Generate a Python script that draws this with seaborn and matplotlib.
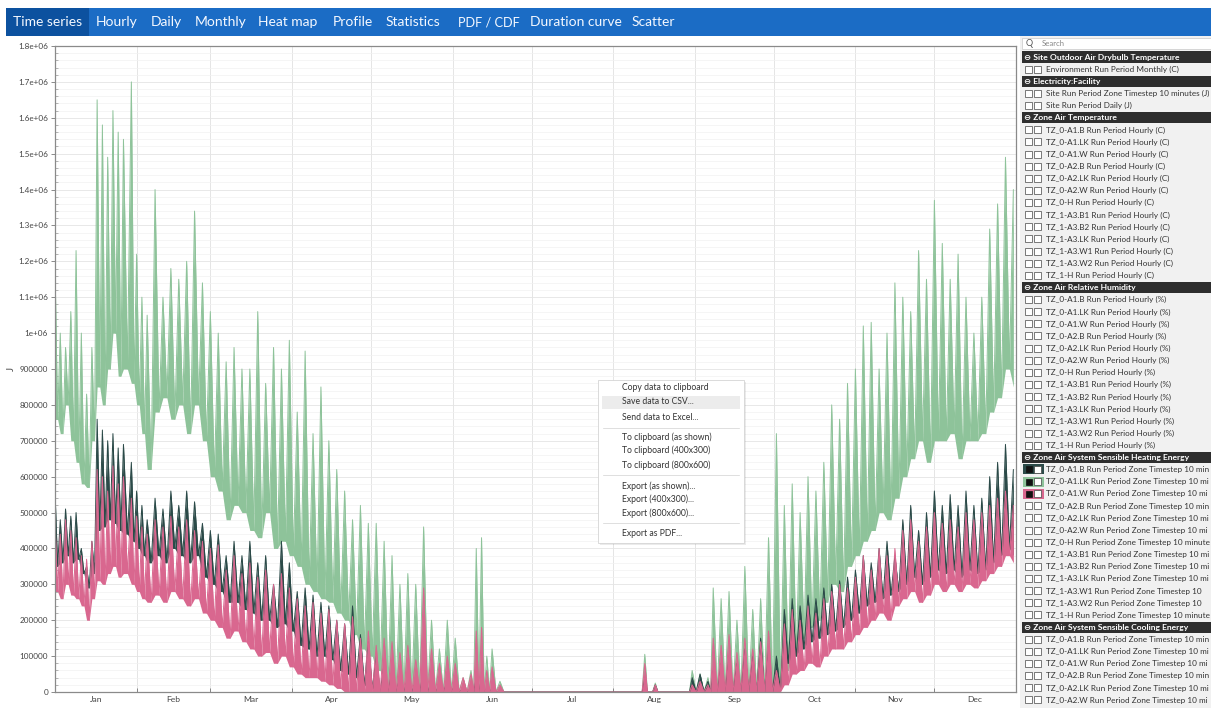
import numpy as np
import pandas as pd
import matplotlib
matplotlib.use("Agg")
import matplotlib.pyplot as plt
import seaborn as sns
from matplotlib.patches import Rectangle
from matplotlib.ticker import FixedLocator, MultipleLocator, NullFormatter, FixedFormatter

# ---------------- data (values in thousands of J) ----------------
days = [0, 2, 4, 6, 8, 10, 12, 14, 16, 18,
        20, 22, 24, 26, 29, 31, 33, 35, 38, 41,
        44, 47, 50, 53, 56, 59, 62, 65, 68, 71,
        74, 77, 80, 83, 86, 89, 92, 95, 98, 101,
        104, 107, 110, 113, 116, 119, 122, 125, 128, 131,
        134, 137, 140, 143, 146, 149, 152, 155, 158, 160,
        162, 164, 166, 169, 172, 222, 224, 226, 228, 230,
        240, 242, 245, 248, 250, 253, 256, 259, 262, 265,
        268, 271, 274, 277, 280, 283, 286, 289, 292, 295,
        298, 301, 304, 307, 310, 313, 316, 319, 322, 325,
        328, 331, 334, 337, 340, 343, 346, 349, 352, 355,
        358, 361, 364]

green_hi = [1190, 1000, 960, 1060, 1230, 1000, 830, 960, 1650, 1580,
            1490, 1620, 1560, 1540, 1700, 1220, 1100, 1050, 1400, 1100,
            1180, 1150, 1200, 1340, 1140, 1060, 1000, 920, 960, 900,
            900, 1060, 860, 960, 900, 980, 780, 950, 720, 850,
            700, 620, 560, 480, 520, 470, 470, 420, 380, 300,
            330, 300, 460, 200, 120, 200, 150, 40, 60, 400,
            430, 100, 120, 30, 0, 0, 105, 0, 25, 0,
            0, 60, 50, 40, 290, 260, 280, 200, 350, 230,
            260, 430, 720, 520, 580, 500, 600, 560, 640, 800,
            760, 860, 900, 1020, 1030, 900, 1000, 1140, 1100, 1060,
            1230, 1150, 1370, 1250, 1150, 1220, 1100, 1000, 1100, 1290,
            1360, 1490, 1400]
green_lo = [760, 720, 800, 700, 640, 580, 570, 700, 850, 800,
            900, 1000, 880, 900, 860, 800, 720, 620, 780, 820,
            760, 800, 720, 800, 700, 600, 560, 480, 520, 500,
            450, 430, 500, 400, 420, 380, 350, 300, 280, 260,
            250, 220, 200, 160, 120, 100, 60, 20, 0, 0,
            0, 0, 0, 0, 0, 0, 0, 0, 0, 0,
            0, 0, 0, 0, 0, 0, 0, 0, 0, 0,
            0, 0, 0, 0, 0, 0, 0, 0, 0, 0,
            0, 0, 0, 60, 100, 150, 180, 200, 250, 300,
            280, 350, 380, 420, 450, 500, 480, 540, 600, 650,
            700, 640, 700, 700, 720, 650, 700, 700, 720, 780,
            820, 900, 850]

dark_hi = [560, 480, 510, 490, 500, 400, 350, 420, 760, 730,
           700, 720, 680, 690, 640, 560, 520, 480, 540, 510,
           560, 520, 560, 530, 470, 450, 440, 380, 420, 380,
           420, 360, 380, 300, 420, 360, 280, 290, 270, 250,
           240, 200, 190, 240, 160, 140, 100, 80, 60, 40,
           40, 30, 60, 30, 20, 30, 20, 10, 10, 40,
           40, 10, 10, 0, 0, 0, 40, 0, 20, 0,
           0, 40, 50, 30, 60, 80, 100, 80, 120, 100,
           150, 120, 100, 230, 260, 240, 270, 260, 290, 300,
           310, 320, 340, 380, 360, 400, 420, 380, 480, 520,
           450, 500, 560, 520, 550, 520, 560, 520, 540, 600,
           640, 690, 620]
dark_lo = [350, 360, 380, 360, 370, 330, 290, 330, 450, 460,
           480, 470, 450, 440, 420, 400, 380, 360, 380, 360,
           400, 380, 360, 380, 320, 300, 280, 250, 250, 230,
           220, 200, 200, 180, 190, 170, 130, 120, 100, 100,
           90, 60, 50, 40, 20, 10, 0, 0, 0, 0,
           0, 0, 0, 0, 0, 0, 0, 0, 0, 0,
           0, 0, 0, 0, 0, 0, 0, 0, 0, 0,
           0, 0, 0, 0, 0, 0, 0, 0, 0, 0,
           0, 0, 0, 80, 100, 120, 140, 150, 160, 170,
           180, 200, 220, 240, 250, 260, 270, 280, 300, 320,
           300, 320, 340, 330, 340, 320, 340, 330, 340, 360,
           380, 400, 380]

pink_hi = [470, 440, 480, 450, 430, 380, 370, 420, 620, 600,
           560, 630, 580, 600, 540, 490, 460, 440, 480, 460,
           490, 460, 480, 450, 420, 400, 410, 340, 380, 330,
           360, 320, 340, 300, 330, 290, 260, 240, 250, 220,
           230, 200, 190, 210, 150, 170, 130, 150, 140, 110,
           130, 90, 290, 120, 80, 100, 80, 40, 50, 170,
           180, 60, 70, 20, 0, 0, 80, 0, 20, 0,
           0, 20, 30, 20, 150, 130, 160, 110, 150, 120,
           140, 170, 60, 190, 230, 200, 240, 220, 260, 280,
           300, 290, 320, 380, 340, 400, 380, 400, 450, 480,
           420, 460, 500, 470, 480, 460, 500, 480, 500, 520,
           540, 560, 520]
pink_lo = [280, 260, 300, 270, 260, 240, 200, 260, 310, 300,
           330, 350, 320, 330, 300, 280, 260, 250, 270, 250,
           280, 260, 240, 260, 220, 200, 180, 150, 170, 140,
           120, 100, 110, 80, 100, 70, 50, 40, 40, 30,
           20, 10, 0, 0, 0, 0, 0, 0, 0, 0,
           0, 0, 0, 0, 0, 0, 0, 0, 0, 0,
           0, 0, 0, 0, 0, 0, 0, 0, 0, 0,
           0, 0, 0, 0, 0, 0, 0, 0, 0, 0,
           0, 0, 0, 20, 50, 60, 80, 70, 100, 120,
           120, 140, 160, 180, 200, 220, 200, 240, 260, 280,
           250, 270, 300, 280, 300, 280, 300, 290, 310, 330,
           350, 380, 360]

months = ["Jan", "Feb", "Mar", "Apr", "May", "Jun", "Jul", "Aug", "Sep", "Oct", "Nov", "Dec"]
month_starts = [0, 31, 59, 90, 120, 151, 181, 212, 243, 273, 304, 334, 365]
ytick_values = [0, 100000, 200000, 300000, 400000, 500000, 600000, 700000, 800000, 900000,
                1000000, 1100000, 1200000, 1300000, 1400000, 1500000, 1600000, 1700000, 1800000]
ytick_labels = ["0", "100000", "200000", "300000", "400000", "500000", "600000", "700000",
                "800000", "900000", "1e+06", "1.1e+06", "1.2e+06", "1.3e+06", "1.4e+06",
                "1.5e+06", "1.6e+06", "1.7e+06", "1.8e+06"]

tabs = ["Time series", "Hourly", "Daily", "Monthly", "Heat map", "Profile", "Statistics",
        "PDF / CDF", "Duration curve", "Scatter"]
menu_items = ["Copy data to clipboard", "Save data to CSV...", "Send data to Excel...",
              "To clipboard (as shown)", "To clipboard (400x300)", "To clipboard (800x600)",
              "Export (as shown)...", "Export (400x300)...", "Export (800x600)...",
              "Export as PDF..."]
zones = ["TZ_0-A1.B", "TZ_0-A1.LK", "TZ_0-A1.W", "TZ_0-A2.B", "TZ_0-A2.LK", "TZ_0-A2.W",
         "TZ_0-H", "TZ_1-A3.B1", "TZ_1-A3.B2", "TZ_1-A3.LK", "TZ_1-A3.W1", "TZ_1-A3.W2", "TZ_1-H"]

GREEN = "#8ec39a"
DARK = "#2b4a48"
PINK = "#d9678f"

# ---------------- figure ----------------
sns.set_theme(style="white")
plt.rcParams['font.family'] = ['Lato', 'DejaVu Sans']

W, H = 1211, 708
fig = plt.figure(figsize=(W / 100, H / 100), dpi=100)
fig.patch.set_facecolor("white")

L, R, T, B = 55, 1016, 46, 692
ax = fig.add_axes([L / W, 1 - B / H, (R - L) / W, (B - T) / H])
ax.set_facecolor("white")


def draw_series(hi, lo, color, z):
    xs, ys, bot = [], [], []
    n = len(days)
    for i in range(n):
        xs.append(days[i]); ys.append(hi[i] * 1000); bot.append(lo[i] * 1000)
        if i < n - 1:
            xs.append((days[i] + days[i + 1]) / 2); ys.append(lo[i] * 1000); bot.append(lo[i] * 1000)
    ax.fill_between(xs, bot, ys, color=color, lw=0, zorder=z)
    df = pd.DataFrame({"day": xs, "J": ys})
    sns.lineplot(data=df, x="day", y="J", sort=False, estimator=None, color=color,
                 lw=0.7, ax=ax, zorder=z)


draw_series(green_hi, green_lo, GREEN, 1.1)
draw_series(dark_hi, dark_lo, DARK, 1.2)
draw_series(pink_hi, pink_lo, PINK, 1.3)

ax.set_xlim(0, 365)
ax.set_ylim(0, 1800000)
ax.set_axisbelow(True)

ax.yaxis.set_major_locator(FixedLocator(ytick_values))
ax.yaxis.set_major_formatter(FixedFormatter(ytick_labels))
ax.yaxis.set_minor_locator(MultipleLocator(20000))
ax.xaxis.set_major_locator(FixedLocator(month_starts))
ax.xaxis.set_major_formatter(NullFormatter())
mids = [(month_starts[i] + month_starts[i + 1]) / 2 for i in range(12)]
ax.xaxis.set_minor_locator(FixedLocator(mids))
ax.xaxis.set_minor_formatter(FixedFormatter(months))

ax.grid(which="major", axis="y", color="#e4e4e4", lw=0.6)
ax.grid(which="minor", axis="y", color="#f1f1f1", lw=0.5)
ax.grid(which="major", axis="x", color="#e0e0e0", lw=0.6)

ax.tick_params(axis="y", which="major", direction="out", length=3, width=0.6, color="#777",
               labelsize=5.9, labelcolor="#444", pad=2, left=True)
ax.tick_params(axis="y", which="minor", direction="in", length=2, width=0.5, color="#999", left=True)
ax.tick_params(axis="x", which="major", direction="in", length=3, width=0.6, color="#777", bottom=True)
ax.tick_params(axis="x", which="minor", length=0, labelsize=6.1, labelcolor="#444", pad=3)
for s in ax.spines.values():
    s.set_color("#8a8a8a")
    s.set_linewidth(0.9)
ax.set_xlabel("")
ax.set_ylabel("J", fontsize=7, color="#444")
ax.yaxis.set_label_coords(-0.041, 0.5)

# ---------------- overlay for application chrome ----------------
ov = fig.add_axes([0, 0, 1, 1], zorder=10)
ov.set_xlim(0, W)
ov.set_ylim(H, 0)
ov.axis("off")
ov.patch.set_alpha(0)

# top tab bar
ov.add_patch(Rectangle((6, 8), W - 6, 28, color="#1b6cc5", lw=0))
ov.add_patch(Rectangle((6, 8), 83, 28, color="#0c519f", lw=0))
tab_x = [13, 96, 151, 195, 258, 333, 386, 458, 530, 632]
tab_size = [10, 10, 10, 10, 10, 10, 10, 9.2, 10, 10]
for t, x, fs in zip(tabs, tab_x, tab_size):
    ov.text(x, 22.5, t, color="#f4f8ff", fontsize=fs, va="center", ha="left",
            family=["Lato", "DejaVu Sans"])

# right side panel
PX = 1020
ov.add_patch(Rectangle((PX, 36), W - PX, H - 36, color="#f1f1f1", lw=0))
ov.add_patch(Rectangle((PX + 2, 37.5), W - PX - 2, 11, facecolor="white", edgecolor="#c8c8c8", lw=0.5))
ov.text(PX + 6, 43.3, "Q", fontsize=6.5, color="#555", va="center", ha="left")
ov.text(PX + 22, 43.3, "Search", fontsize=5.6, color="#888", va="center", ha="left")

rows = []
rows.append(("h", "Site Outdoor Air Drybulb Temperature"))
rows.append(("i", "Environment Run Period Monthly (C)"))
rows.append(("h", "Electricity:Facility"))
rows.append(("i", "Site Run Period Zone Timestep 10 minutes (J)"))
rows.append(("i", "Site Run Period Daily (J)"))
rows.append(("h", "Zone Air Temperature"))
for z in zones:
    rows.append(("i", z + " Run Period Hourly (C)"))
rows.append(("h", "Zone Air Relative Humidity"))
for z in zones:
    rows.append(("i", z + " Run Period Hourly (%)"))
rows.append(("h", "Zone Air System Sensible Heating Energy"))
for z in zones:
    rows.append(("i", z + " Run Period Zone Timestep 10 minutes (J)"))
rows.append(("h", "Zone Air System Sensible Cooling Energy"))
for z in zones[:6]:
    rows.append(("i", z + " Run Period Zone Timestep 10 minutes (J)"))

sel_colors = {34: DARK, 35: GREEN, 36: PINK}
step = 12.13
item_texts = []
for i, (kind, label) in enumerate(rows):
    yc = 57 + i * step
    if kind == "h":
        ov.add_patch(Rectangle((PX + 2, yc - 5.6), W - PX - 2, 11.2, color="#2e2e2e", lw=0))
        ov.text(PX + 4, yc + 0.3, "\u2296 " + label, color="white", fontsize=6.1, weight="bold",
                va="center", ha="left", family=["Lato", "DejaVu Sans"])
    else:
        if i in sel_colors:
            ov.add_patch(Rectangle((PX + 3, yc - 5), 21, 10, color=sel_colors[i], lw=0))
            ov.add_patch(Rectangle((PX + 5.5, yc - 3), 6, 6, facecolor="#111", edgecolor="#111", lw=0.5))
            ov.add_patch(Rectangle((PX + 14, yc - 3.5), 7, 7, facecolor="white", edgecolor="#444", lw=0.5))
        else:
            ov.add_patch(Rectangle((PX + 5, yc - 3.5), 7, 7, facecolor="white", edgecolor="#555", lw=0.55))
            ov.add_patch(Rectangle((PX + 14, yc - 3.5), 7, 7, facecolor="white", edgecolor="#555", lw=0.55))
        t = ov.text(PX + 26, yc + 0.3, label, color="#333", fontsize=5.85, va="center", ha="left",
                    family=["Lato", "DejaVu Sans"])
        item_texts.append(t)

# the list is clipped by the window edge: shorten labels that run past it
renderer = fig.canvas.get_renderer()
for t in item_texts:
    s = t.get_text()
    while t.get_window_extent(renderer).x1 > W - 1 and len(s) > 1:
        s = s[:-1]
        t.set_text(s)

# context menu
MX, MY, MW, MH = 598, 380, 146, 163
ov.add_patch(Rectangle((MX + 2, MY + 2), MW, MH, color="#000000", alpha=0.08, lw=0))
ov.add_patch(Rectangle((MX, MY), MW, MH, facecolor="white", edgecolor="#d4d4d4", lw=0.6))
ov.add_patch(Rectangle((MX + 4, 396), MW - 8, 12.5, color="#ececec", lw=0))
menu_y = [388, 402, 417, 437, 450.5, 465, 486, 499.5, 513, 534]
for t, y in zip(menu_items, menu_y):
    ov.text(622, y, t, fontsize=6.2, color="#333", va="center", ha="left",
            family=["Lato", "DejaVu Sans"])
for y in [427.5, 475, 523]:
    ov.plot([MX + 5, MX + MW - 5], [y, y], color="#dedede", lw=0.7)

fig.savefig("out.png", dpi=100)
